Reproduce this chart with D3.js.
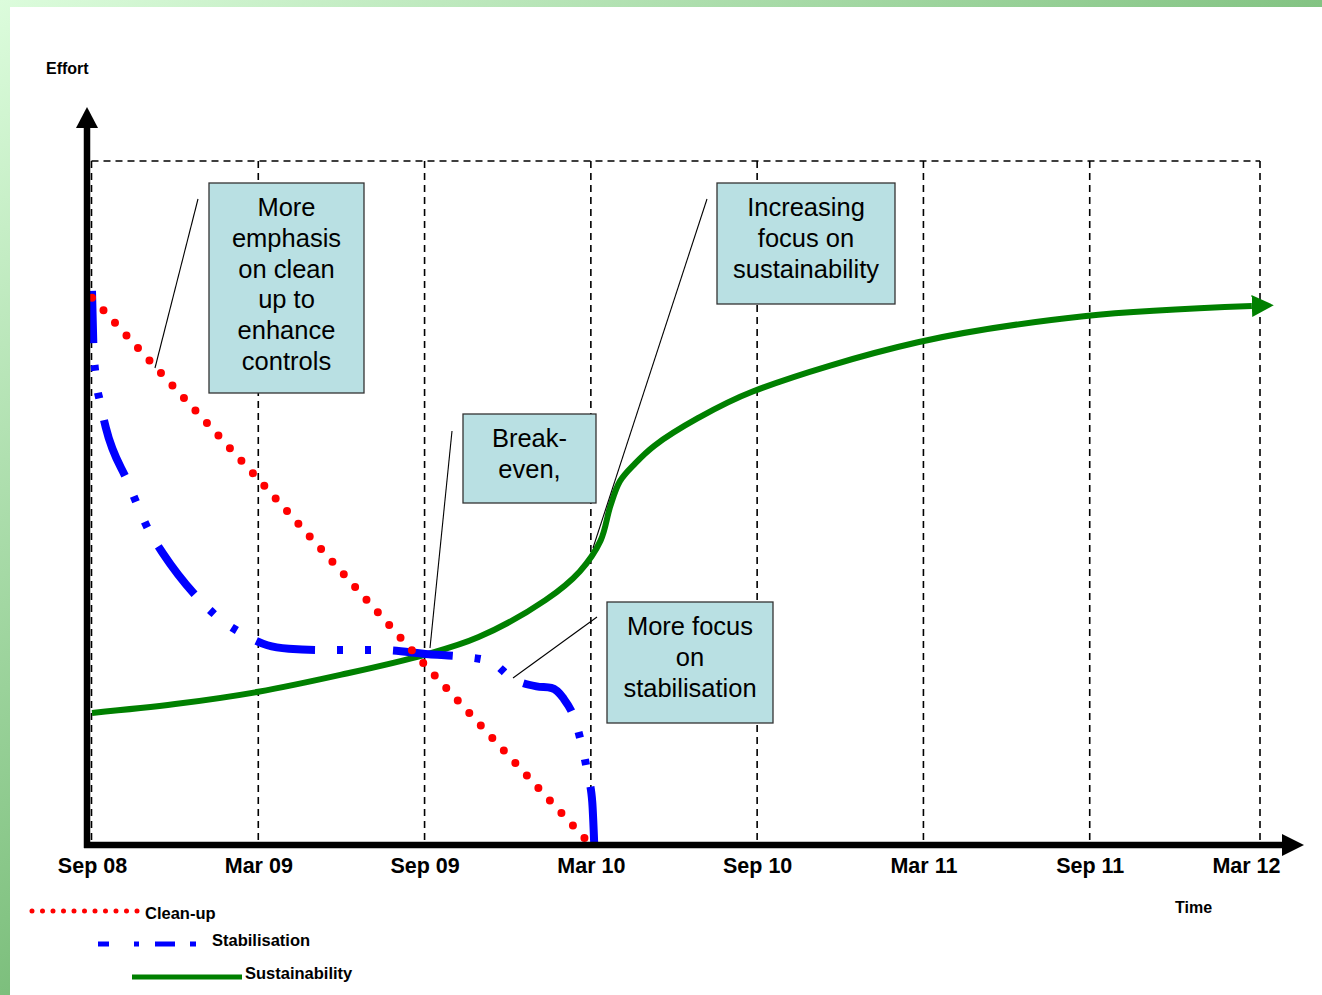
<!DOCTYPE html>
<html><head><meta charset="utf-8">
<script src="https://cdn.jsdelivr.net/npm/d3@7"></script>
<style>html,body{margin:0;padding:0;background:#fff;overflow:hidden;} svg{display:block;font-family:"Liberation Sans",Arial,sans-serif;}</style>
</head><body><svg id="c" width="1322" height="995"></svg>
<script>
// ---- data ----
const tickLabels = ["Sep 08","Mar 09","Sep 09","Mar 10","Sep 10","Mar 11","Sep 11","Mar 12"];
const tickMonths = [0,6,12,18,24,30,36,42];
const seriesNames = ["Clean-up","Stabilisation","Sustainability"];
const cleanupMonths = [0,6,12,18];
const cleanupValues = [80,53.5,26.4,0];
const stabMonths = [0,0.05,0.12,0.3,0.5,1.3,2.1,2.55,3.85,4.57,5.47,6.33,7.1,8.4,10.4,12.15,13.45,14.4,15.14,16.04,16.58,17.0,17.44,17.69,17.9,18.05,18.12];
const stabValues = [81,73,69,64.6,61,53,45.6,42.7,36,33.2,30.8,29.2,28.7,28.5,28.5,27.9,27.5,26.8,24.4,23.2,22.95,21.5,18.1,14.3,10.1,6.3,0.3];
const sustMonths = [0,3,6,9,12,13.95,16.36,17.6,18.35,18.7,19.05,19.6,20.3,21.86,23.84,29.8,35.78,41.85];
const sustValues = [19.3,20.6,22.4,24.9,27.8,30.4,35.8,40.0,44.5,49.5,53.2,55.8,58.4,62.4,66.3,73.5,77.3,78.8];
const noteTexts = [
  ["More","emphasis","on clean","up to","enhance","controls"],
  ["Break-","even,"],
  ["Increasing","focus on","sustainability"],
  ["More focus","on","stabilisation"]
];

// ---- layout ----
const W = 1322, H = 995;
const svg = d3.select("#c");
const x = d3.scaleLinear().domain([0,42]).range([92,1256]);
const y = d3.scaleLinear().domain([0,100]).range([845,161]);

// background frame gradient
const defs = svg.append("defs");
const g1 = defs.append("linearGradient").attr("id","bg").attr("gradientUnits","userSpaceOnUse")
  .attr("x1",0).attr("y1",0).attr("x2",700).attr("y2",995);
g1.append("stop").attr("offset",0).attr("stop-color","#dcfcdc");
g1.append("stop").attr("offset",0.62).attr("stop-color","#84c484");
g1.append("stop").attr("offset",1).attr("stop-color","#4e9e4e");
svg.append("rect").attr("width",W).attr("height",H).attr("fill","url(#bg)");
svg.append("rect").attr("x",10).attr("y",7).attr("width",W-10).attr("height",H-7).attr("fill","#fff");

// arrow marker for sustainability
defs.append("marker").attr("id","garrow").attr("markerUnits","userSpaceOnUse")
  .attr("viewBox","0 0 22 22").attr("markerWidth",22).attr("markerHeight",22)
  .attr("refX",0).attr("refY",11).attr("orient","auto")
  .append("path").attr("d","M0,0L22,11L0,22Z").attr("fill","#008000");

// grid
const grid = svg.append("g").attr("stroke","#000").attr("stroke-width",1.6).attr("stroke-dasharray","7,5").attr("fill","none");
const gx = d => x(d) + (d===0 ? -0.5 : d===42 ? 4 : 0);
grid.append("line").attr("x1",gx(0)).attr("x2",gx(42)).attr("y1",y(100)).attr("y2",y(100));
grid.selectAll("line.v").data(tickMonths).enter().append("line").attr("class","v")
  .attr("x1",gx).attr("x2",gx).attr("y1",y(100)).attr("y2",y(0)-5);

// series
const line = d3.line().x(d=>x(d[0])).y(d=>y(d[1]));
const cleanPts = cleanupMonths.map((m,i)=>[m,cleanupValues[i]]);
const stabPts = stabMonths.map((m,i)=>[m,stabValues[i]]);
const sustPts = sustMonths.map((m,i)=>[m,sustValues[i]]);

svg.append("path").attr("d",line.curve(d3.curveCatmullRom.alpha(0.5))(sustPts))
  .attr("fill","none").attr("stroke","#008000").attr("stroke-width",6).attr("marker-end","url(#garrow)");
svg.append("path").attr("d",line.curve(d3.curveMonotoneX)(stabPts))
  .attr("fill","none").attr("stroke","#0000ff").attr("stroke-width",8)
  .attr("stroke-dasharray","60,22,6,22,6,22").attr("stroke-dashoffset",8);
svg.append("path").attr("d",line.curve(d3.curveLinear)(cleanPts))
  .attr("fill","none").attr("stroke","#ff0000").attr("stroke-width",8)
  .attr("stroke-linecap","round").attr("stroke-dasharray","0,17");

// axes (thick arrows)
const ax = svg.append("g");
const axX = x(0)-5;
ax.append("line").attr("x1",axX).attr("x2",axX).attr("y1",y(0)+3).attr("y2",y(100)-35)
  .attr("stroke","#000").attr("stroke-width",6.5);
ax.append("path").attr("d",`M${axX-11},${y(100)-33}L${axX},${y(100)-54}L${axX+11},${y(100)-33}Z`).attr("fill","#000");
const xEnd = x(42)+26;
ax.append("line").attr("x1",axX-3).attr("x2",xEnd+2).attr("y1",y(0)).attr("y2",y(0))
  .attr("stroke","#000").attr("stroke-width",6.5);
ax.append("path").attr("d",`M${xEnd},${y(0)-11}L${xEnd+22},${y(0)}L${xEnd},${y(0)+11}Z`).attr("fill","#000");

// tick labels via d3 axis
const xAxis = d3.axisBottom(x).tickValues(tickMonths).tickFormat((d,i)=>tickLabels[i]).tickSize(0).tickPadding(13);
const xg = svg.append("g").attr("transform",`translate(0,${y(0)})`).call(xAxis);
xg.select(".domain").remove();
xg.selectAll("text").attr("font-size",21.5).attr("font-weight","bold").attr("fill","#000")
  .attr("font-family","\"Liberation Sans\",Arial,sans-serif")
  .each(function(d,i){ if(i===tickLabels.length-1){ d3.select(this).attr("text-anchor","end").attr("x",24); } });

// axis titles
svg.append("text").attr("x",46).attr("y",74).attr("font-size",16).attr("font-weight","bold").text("Effort");
svg.append("text").attr("x",1175).attr("y",913).attr("font-size",16).attr("font-weight","bold").text("Time");

// annotation boxes
const noteLayout = [
  {x:209,y:183,w:155,h:210, from:[198,199], to:[155,368]},
  {x:463,y:414,w:133,h:89, from:[452,431], to:[430,648]},
  {x:717,y:183,w:178,h:121, from:[707,199], to:[593,548]},
  {x:607,y:602,w:166,h:121, from:[597,617], to:[513,678]}
];
const notes = svg.append("g");
noteTexts.forEach((lines,i)=>{
  const L = noteLayout[i];
  notes.append("line").attr("x1",L.from[0]).attr("y1",L.from[1]).attr("x2",L.to[0]).attr("y2",L.to[1])
    .attr("stroke","#000").attr("stroke-width",1.1);
  notes.append("rect").attr("x",L.x).attr("y",L.y).attr("width",L.w).attr("height",L.h)
    .attr("fill","#b9e0e3").attr("stroke","#333").attr("stroke-width",1.3);
  const t = notes.append("text").attr("text-anchor","middle").attr("font-size",25.5).attr("fill","#000");
  lines.forEach((s,j)=>{
    t.append("tspan").attr("x",L.x+L.w/2).attr("y",L.y+33+j*30.8).text(s);
  });
});

// legend
const lg = svg.append("g");
lg.append("line").attr("x1",32).attr("x2",138).attr("y1",911).attr("y2",911)
  .attr("stroke","#ff0000").attr("stroke-width",5).attr("stroke-linecap","round").attr("stroke-dasharray","0,10.5");
lg.append("line").attr("x1",98).attr("x2",196).attr("y1",944).attr("y2",944)
  .attr("stroke","#0000ff").attr("stroke-width",5).attr("stroke-dasharray","11,25,5,16,20,15,6,20");
lg.append("line").attr("x1",132).attr("x2",242).attr("y1",977).attr("y2",977)
  .attr("stroke","#008000").attr("stroke-width",5);
const legPos = [[145,919],[212,946],[245,979]];
seriesNames.forEach((n,i)=>{
  lg.append("text").attr("x",legPos[i][0]).attr("y",legPos[i][1]).attr("font-size",16.5).attr("font-weight","bold").text(n);
});
</script></body></html>
